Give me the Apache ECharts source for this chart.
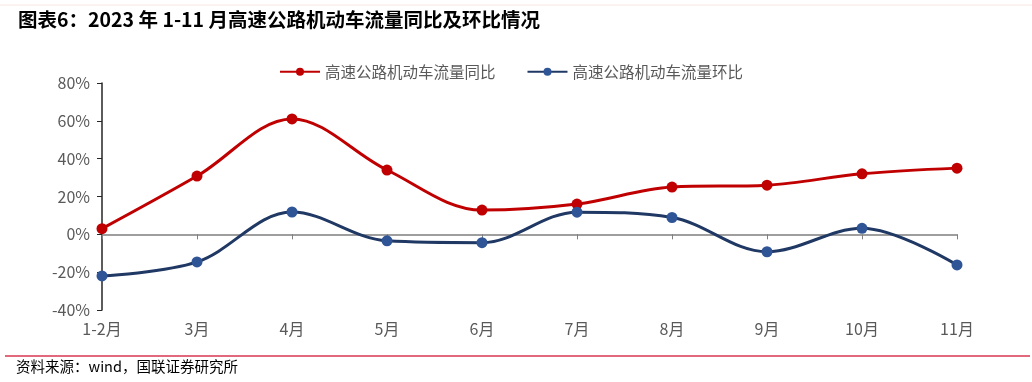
<!DOCTYPE html>
<html><head><meta charset="utf-8">
<script src="https://cdn.jsdelivr.net/npm/echarts@6/dist/echarts.min.js"></script>
<style>html,body{margin:0;padding:0;background:#fff}#c{width:1032px;height:382px}</style>
</head><body><div id="c"></div>
<script>
const categories = ['1-2月','3月','4月','5月','6月','7月','8月','9月','10月','11月'];
const yoy = [3, 30.8, 61, 34, 12.8, 16, 25, 26, 32, 35];
const mom = [-22, -14.6, 11.8, -3.4, -4.4, 11.7, 8.9, -9.2, 3.2, -16.2];
const yTicks = [-40, -20, 0, 20, 40, 60, 80];
const seriesNames = ['高速公路机动车流量同比', '高速公路机动车流量环比'];
const titleText = '图表6：2023 年 1-11 月高速公路机动车流量同比及环比情况';
const sourceText = '资料来源：wind，国联证券研究所';

const chart = echarts.init(document.getElementById('c'));
const font = '"Noto Sans CJK SC", "Microsoft YaHei", sans-serif';
chart.setOption({
  animation: false,
  textStyle: { fontFamily: font },
  grid: { left: 102, right: 75, top: 83, bottom: 72 },
  legend: {
    top: 64, left: 279, padding: 0, itemGap: 31, itemWidth: 40, itemHeight: 10,
    textStyle: { color: '#595959', fontSize: 15.5, fontFamily: font },
    data: seriesNames
  },
  xAxis: [{
    type: 'category', data: categories, boundaryGap: false,
    axisLine: { onZero: true, lineStyle: { color: '#7f7f7f', width: 1.5 } },
    axisTick: { show: true, length: 5, inside: false, lineStyle: { color: '#7f7f7f' }, alignWithLabel: true },
    axisLabel: { show: false }, splitLine: { show: false }
  }, {
    type: 'category', data: categories, boundaryGap: false, position: 'bottom',
    axisLine: { show: false, onZero: false }, axisTick: { show: false },
    axisLabel: { show: true, color: '#595959', fontSize: 16, margin: 11, fontFamily: font },
    splitLine: { show: false }
  }],
  yAxis: {
    type: 'value', min: yTicks[0], max: yTicks[yTicks.length - 1], interval: 20,
    axisLine: { show: true, lineStyle: { color: '#262626', width: 1.5 } },
    axisTick: { show: true, length: 5, lineStyle: { color: '#262626' } },
    axisLabel: { color: '#595959', fontSize: 16, margin: 12, formatter: v => v + '%', fontFamily: font },
    splitLine: { show: false }
  },
  series: [{
    name: seriesNames[0], type: 'line', data: yoy, smooth: 0.35,
    symbol: 'circle', symbolSize: 11,
    lineStyle: { color: '#C00000', width: 3 },
    itemStyle: { color: '#C00000' }
  }, {
    name: seriesNames[1], type: 'line', data: mom, smooth: 0.35,
    symbol: 'circle', symbolSize: 11,
    lineStyle: { color: '#203864', width: 3 },
    itemStyle: { color: '#2F5597' }
  }],
  graphic: [
    { type: 'line', shape: { x1: 0, y1: 5, x2: 1032, y2: 5 }, style: { stroke: '#f6e4e4', lineWidth: 1 } },
    { type: 'text', left: 18, top: 10, style: { text: titleText, font: 'bold 19.5px ' + font, fill: '#000' } },
    { type: 'line', shape: { x1: 5, y1: 356, x2: 1030, y2: 356 }, style: { stroke: '#d9374f', lineWidth: 1.5 } },
    { type: 'text', left: 16, top: 359, style: { text: sourceText, font: '14.5px ' + font, fill: '#000' } }
  ]
});
</script></body></html>
